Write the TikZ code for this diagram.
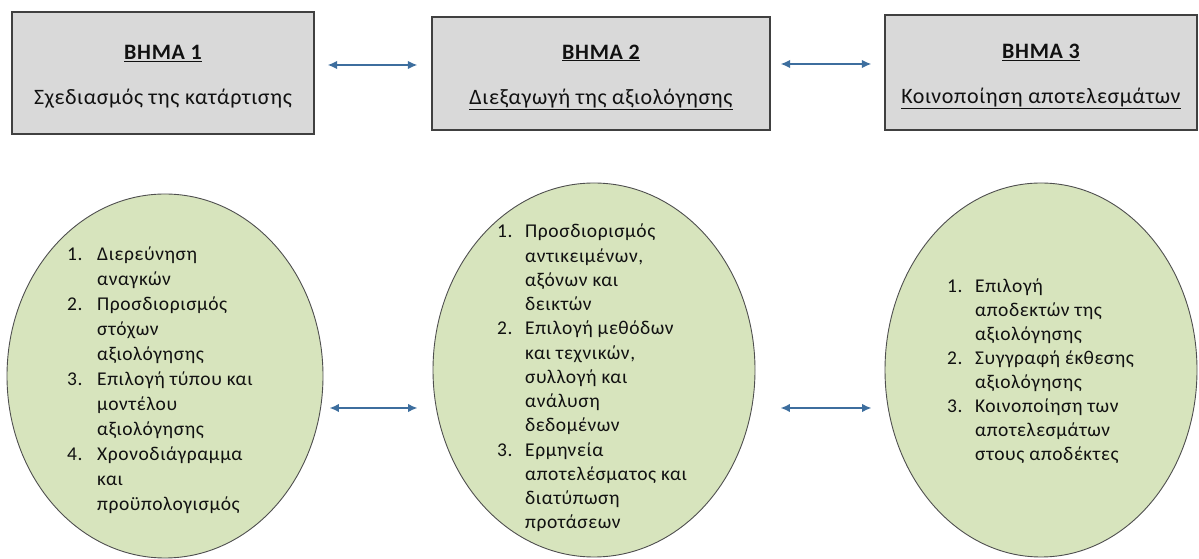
\documentclass[tikz,border=0pt]{standalone}
\usepackage{fontspec}
\setmainfont{Carlito}
\newfontfamily\spacedfont[LetterSpace=3]{Carlito}
\usetikzlibrary{arrows.meta,shapes.geometric}
\definecolor{boxfill}{HTML}{D9D9D9}
\definecolor{boxline}{HTML}{404040}
\definecolor{ovalfill}{HTML}{D7E4BD}
\definecolor{ovalline}{HTML}{4F4F4F}
\definecolor{arrowblue}{HTML}{3D6E9E}
\definecolor{ink}{HTML}{111111}
\newcommand\numlab[1]{\makebox[28pt][l]{#1}}
\newcommand\numgap{\makebox[28pt]{}}
\newcommand\numlabw[1]{\makebox[30pt][l]{#1}}
\newcommand\numgapw{\makebox[30pt]{}}
\newcommand\topstrut{\rule{0pt}{22pt}}
\tikzset{
  stepbox/.style={draw=boxline, fill=boxfill, line width=1.2pt, inner sep=0pt,
    align=center, text=ink, font=\spacedfont\fontsize{22}{45}\selectfont},
  oval/.style={ellipse, draw=ovalline, fill=ovalfill, line width=0.9pt, inner sep=0pt},
  itemlist/.style={anchor=base west, align=left, inner sep=0pt, text=ink},
  biarrow/.style={draw=arrowblue, line width=1.7pt,
    {Latex[length=9.5pt,width=8.5pt]}-{Latex[length=9.5pt,width=8.5pt]}}
}
\begin{document}
\begin{tikzpicture}[x=1pt,y=1pt]
\useasboundingbox (0,0) rectangle (1199,559);

% step boxes
\node[stepbox, minimum width=302pt, minimum height=122pt] (b1) at (163,486)
  {\topstrut\textbf{\underline{ΒΗΜΑ 1}}\\Σχεδιασμός της κατάρτισης};
\node[stepbox, minimum width=338pt, minimum height=113pt] (b2) at (601,485.5)
  {\topstrut\textbf{\underline{ΒΗΜΑ 2}}\\\underline{Διεξαγωγή της αξιολόγησης}};
\node[stepbox, minimum width=312pt, minimum height=115pt] (b3) at (1041,486.5)
  {\topstrut\textbf{\underline{ΒΗΜΑ 3}}\\\underline{Κοινοποίηση αποτελεσμάτων}};

% ovals with the tasks of each step
\node[oval, minimum width=316pt, minimum height=364pt] (e1) at (165,183) {};
\node[oval, minimum width=322pt, minimum height=374pt] (e2) at (594,189) {};
\node[oval, minimum width=312pt, minimum height=374pt] (e3) at (1041,189) {};

% task lists (the base anchor sits on the last line)
\node[itemlist, font=\spacedfont\fontsize{19.5}{25}\selectfont] (l1) at (67,48)
  {\numlabw{1.}Διερεύνηση\\
   \numgapw αναγκών\\
   \numlabw{2.}Προσδιορισμός\\
   \numgapw στόχων\\
   \numgapw αξιολόγησης\\
   \numlabw{3.}Επιλογή τύπου και\\
   \numgapw μοντέλου\\
   \numgapw αξιολόγησης\\
   \numlabw{4.}Χρονοδιάγραμμα\\
   \numgapw και\\
   \numgapw προϋπολογισμός};

\node[itemlist, font=\spacedfont\fontsize{19.5}{24.25}\selectfont] (l2) at (497,30)
  {\numlab{1.}Προσδιορισμός\\
   \numgap αντικειμένων,\\
   \numgap αξόνων και\\
   \numgap δεικτών\\
   \numlab{2.}Επιλογή μεθόδων\\
   \numgap και τεχνικών,\\
   \numgap συλλογή και\\
   \numgap ανάλυση\\
   \numgap δεδομένων\\
   \numlab{3.}Ερμηνεία\\
   \numgap αποτελέσματος και\\
   \numgap διατύπωση\\
   \numgap προτάσεων};

\node[itemlist, font=\spacedfont\fontsize{19.5}{24}\selectfont] (l3) at (947,98)
  {\numlab{1.}Επιλογή\\
   \numgap αποδεκτών της\\
   \numgap αξιολόγησης\\
   \numlab{2.}Συγγραφή έκθεσης\\
   \numgap αξιολόγησης\\
   \numlab{3.}Κοινοποίηση των\\
   \numgap αποτελεσμάτων\\
   \numgap στους αποδέκτες};

% connectors between the steps
\draw[biarrow] ([xshift=13pt,yshift=8pt]b1.east) -- ([xshift=-14pt,yshift=8.5pt]b2.west);
\draw[biarrow] ([xshift=10pt,yshift=9.5pt]b2.east) -- ([xshift=-13pt,yshift=8.5pt]b3.west);
\draw[biarrow] ([xshift=6pt,yshift=-32pt]e1.east) -- ([xshift=-15pt,yshift=-38pt]e2.west);
\draw[biarrow] ([xshift=25pt]e2.east |- 0,151) -- ([xshift=-13pt]e3.west |- 0,151);
\end{tikzpicture}
\end{document}
